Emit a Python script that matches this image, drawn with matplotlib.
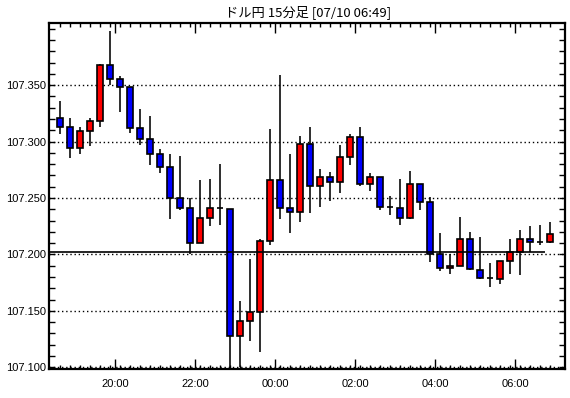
import numpy as np
import matplotlib
matplotlib.use('Agg')
from matplotlib import pyplot as plt
from matplotlib.ticker import MultipleLocator, FixedLocator

plt.rcParams['font.family'] = ['Liberation Sans', 'DejaVu Sans']

# 15-minute candles starting 18:30
opens  = [107.321, 107.313, 107.294, 107.309, 107.318, 107.368, 107.355, 107.348, 107.312, 107.302,
          107.289, 107.277, 107.250, 107.241, 107.210, 107.232, 107.241, 107.240, 107.128, 107.141,
          107.149, 107.212, 107.266, 107.241, 107.238, 107.298, 107.261, 107.269, 107.264, 107.286,
          107.304, 107.262, 107.269, 107.242, 107.241, 107.232, 107.262, 107.246, 107.200, 107.188,
          107.190, 107.214, 107.186, 107.179, 107.178, 107.194, 107.202, 107.214, 107.211, 107.211]
highs  = [107.336, 107.321, 107.313, 107.321, 107.369, 107.398, 107.358, 107.348, 107.329, 107.323,
          107.293, 107.289, 107.287, 107.250, 107.266, 107.267, 107.280, 107.240, 107.159, 107.196,
          107.214, 107.311, 107.359, 107.289, 107.305, 107.313, 107.276, 107.273, 107.297, 107.307,
          107.313, 107.272, 107.269, 107.252, 107.267, 107.274, 107.262, 107.251, 107.219, 107.200,
          107.233, 107.220, 107.215, 107.192, 107.194, 107.214, 107.222, 107.225, 107.226, 107.229]
lows   = [107.307, 107.285, 107.289, 107.296, 107.313, 107.350, 107.326, 107.308, 107.297, 107.279,
          107.272, 107.231, 107.239, 107.200, 107.210, 107.225, 107.226, 107.100, 107.100, 107.123,
          107.114, 107.208, 107.231, 107.219, 107.229, 107.237, 107.242, 107.247, 107.254, 107.279,
          107.261, 107.256, 107.239, 107.235, 107.226, 107.231, 107.239, 107.193, 107.185, 107.183,
          107.190, 107.186, 107.178, 107.171, 107.174, 107.183, 107.182, 107.202, 107.208, 107.210]
closes = [107.313, 107.294, 107.309, 107.318, 107.368, 107.355, 107.348, 107.312, 107.302, 107.289,
          107.277, 107.250, 107.241, 107.210, 107.232, 107.241, 107.241, 107.128, 107.141, 107.149,
          107.212, 107.266, 107.241, 107.238, 107.298, 107.261, 107.269, 107.264, 107.286, 107.304,
          107.262, 107.269, 107.242, 107.242, 107.232, 107.262, 107.246, 107.200, 107.188, 107.190,
          107.214, 107.187, 107.179, 107.179, 107.194, 107.202, 107.214, 107.211, 107.211, 107.218]

hour_labels = ['20:00', '22:00', '00:00', '02:00', '04:00', '06:00']
hour_pos = [5.5, 13.5, 21.5, 29.5, 37.5, 45.5]
ref_price = 107.2025
title = 'ドル円 15分足 [07/10 06:49]'

fig = plt.figure(figsize=(5.7, 3.98), dpi=100)
ax = fig.add_axes([49/570., 1-369/398., (565-49)/570., (369-23)/398.])

x = np.arange(len(opens))
o = np.array(opens); h = np.array(highs); l = np.array(lows); c = np.array(closes)
cols = np.where(c > o, '#ff0000', np.where(c < o, '#0000ff', 'black'))

ax.vlines(x, l, h, color='black', lw=1.15, zorder=2)
ax.bar(x, c-o, bottom=o, width=0.68, color=cols, edgecolor='black', linewidth=1.2, zorder=3)
ax.hlines(ref_price, -1.1, 48.45, color='black', lw=1.2, zorder=4)

ax.set_xlim(-1.1, 50.5)
ax.set_ylim(107.0985, 107.405)

ax.yaxis.set_major_locator(FixedLocator([107.10, 107.15, 107.20, 107.25, 107.30, 107.35]))
ax.yaxis.set_minor_locator(MultipleLocator(0.01))
ax.yaxis.set_major_formatter(matplotlib.ticker.FormatStrFormatter('%.3f'))
ax.xaxis.set_major_locator(FixedLocator(hour_pos))
ax.xaxis.set_minor_locator(FixedLocator(x))
ax.set_xticklabels(hour_labels)

ax.yaxis.grid(True, which='major', linestyle=(0, (1, 2)), color='black', lw=1.0)
ax.set_axisbelow(True)

ax.tick_params(axis='both', which='both', direction='in', top=True, right=True, colors='black', width=1.0)
ax.tick_params(axis='x', which='major', length=7, pad=7, labelsize=8)
ax.tick_params(axis='x', which='minor', length=3)
ax.tick_params(axis='y', which='major', length=4, pad=2, labelsize=8)
ax.tick_params(axis='y', which='minor', length=4)
for s in ax.spines.values():
    s.set_linewidth(1.6)

fig.text(308/570., 1-12/398., title, ha='center', va='center', fontsize=9.5,
         family=['Noto Sans CJK JP', 'DejaVu Sans'])

plt.savefig('out.png', dpi=100)
